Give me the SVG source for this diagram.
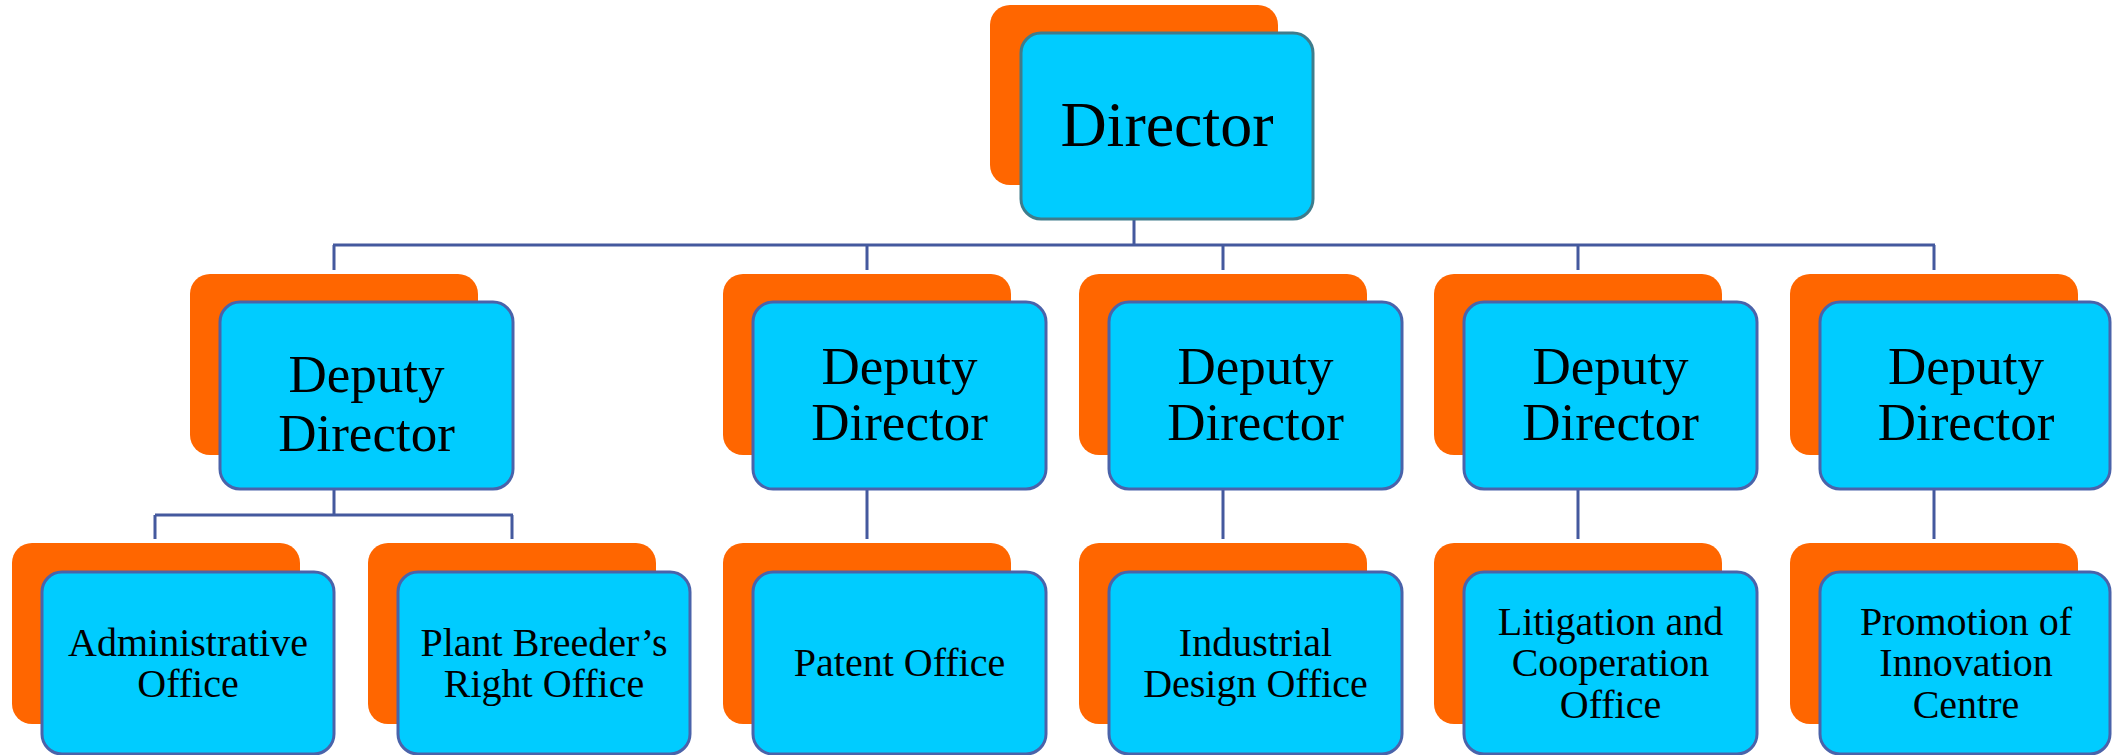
<svg xmlns="http://www.w3.org/2000/svg" width="2112" height="755" viewBox="0 0 2112 755">
<style>
.sh{fill:#FF6600}
.bx{fill:#00CCFF;stroke:#4A63AA;stroke-width:3}
.top{stroke:#3F7C8C}
text{font-family:"Liberation Serif","Times New Roman",serif;fill:#000;text-anchor:middle}
.t1{font-size:64px}
.t2{font-size:53px}
.t3{font-size:40px}
.c{fill:none;stroke:#44599E;stroke-width:3}
</style>
<rect width="2112" height="755" fill="#fff"/>
<g id="connectors">
<path class="c" d="M1134 219V245M333 245H1935M334 245V270M867 245V270M1223 245V270M1578 245V270M1934 245V270"/>
<path class="c" d="M334 489V515M155 515H513M155 515V539M512 515V539"/>
<path class="c" d="M867 489V539M1223 489V539M1578 489V539M1934 489V539"/>
</g>
<g id="director">
<rect class="sh" x="990" y="5" width="288" height="180" rx="20"/>
<rect class="bx top" x="1021" y="33" width="292" height="186" rx="20"/>
<text class="t1" x="1167" y="146">Director</text>
</g>
<g id="deputy1">
<rect class="sh" x="190" y="274" width="288" height="181" rx="20"/>
<rect class="bx" x="220" y="302" width="293" height="187" rx="20"/>
<text class="t2" x="366.5" y="392">Deputy</text>
<text class="t2" x="366.5" y="451">Director</text>
</g>
<g id="deputy2">
<rect class="sh" x="723" y="274" width="288" height="181" rx="20"/>
<rect class="bx" x="753" y="302" width="293" height="187" rx="20"/>
<text class="t2" x="899.5" y="384">Deputy</text>
<text class="t2" x="899.5" y="440">Director</text>
</g>
<g id="deputy3">
<rect class="sh" x="1079" y="274" width="288" height="181" rx="20"/>
<rect class="bx" x="1109" y="302" width="293" height="187" rx="20"/>
<text class="t2" x="1255.5" y="384">Deputy</text>
<text class="t2" x="1255.5" y="440">Director</text>
</g>
<g id="deputy4">
<rect class="sh" x="1434" y="274" width="288" height="181" rx="20"/>
<rect class="bx" x="1464" y="302" width="293" height="187" rx="20"/>
<text class="t2" x="1610.5" y="384">Deputy</text>
<text class="t2" x="1610.5" y="440">Director</text>
</g>
<g id="deputy5">
<rect class="sh" x="1790" y="274" width="288" height="181" rx="20"/>
<rect class="bx" x="1820" y="302" width="290" height="187" rx="20"/>
<text class="t2" x="1966" y="384">Deputy</text>
<text class="t2" x="1966" y="440">Director</text>
</g>
<g id="administrative-office">
<rect class="sh" x="12" y="543" width="288" height="181" rx="20"/>
<rect class="bx" x="42" y="572" width="292" height="182" rx="20"/>
<text class="t3" x="188" y="656">Administrative</text>
<text class="t3" x="188" y="697">Office</text>
</g>
<g id="plant-breeders-right-office">
<rect class="sh" x="368" y="543" width="288" height="181" rx="20"/>
<rect class="bx" x="398" y="572" width="292" height="182" rx="20"/>
<text class="t3" x="544" y="656">Plant Breeder’s</text>
<text class="t3" x="544" y="697">Right Office</text>
</g>
<g id="patent-office">
<rect class="sh" x="723" y="543" width="288" height="181" rx="20"/>
<rect class="bx" x="753" y="572" width="293" height="182" rx="20"/>
<text class="t3" x="899.5" y="676">Patent Office</text>
</g>
<g id="industrial-design-office">
<rect class="sh" x="1079" y="543" width="288" height="181" rx="20"/>
<rect class="bx" x="1109" y="572" width="293" height="182" rx="20"/>
<text class="t3" x="1255.5" y="656">Industrial</text>
<text class="t3" x="1255.5" y="697">Design Office</text>
</g>
<g id="litigation-cooperation-office">
<rect class="sh" x="1434" y="543" width="288" height="181" rx="20"/>
<rect class="bx" x="1464" y="572" width="293" height="182" rx="20"/>
<text class="t3" x="1610.5" y="635">Litigation and</text>
<text class="t3" x="1610.5" y="676">Cooperation</text>
<text class="t3" x="1610.5" y="718">Office</text>
</g>
<g id="promotion-innovation-centre">
<rect class="sh" x="1790" y="543" width="288" height="181" rx="20"/>
<rect class="bx" x="1820" y="572" width="290" height="182" rx="20"/>
<text class="t3" x="1966" y="635">Promotion of</text>
<text class="t3" x="1966" y="676">Innovation</text>
<text class="t3" x="1966" y="718">Centre</text>
</g>
</svg>
